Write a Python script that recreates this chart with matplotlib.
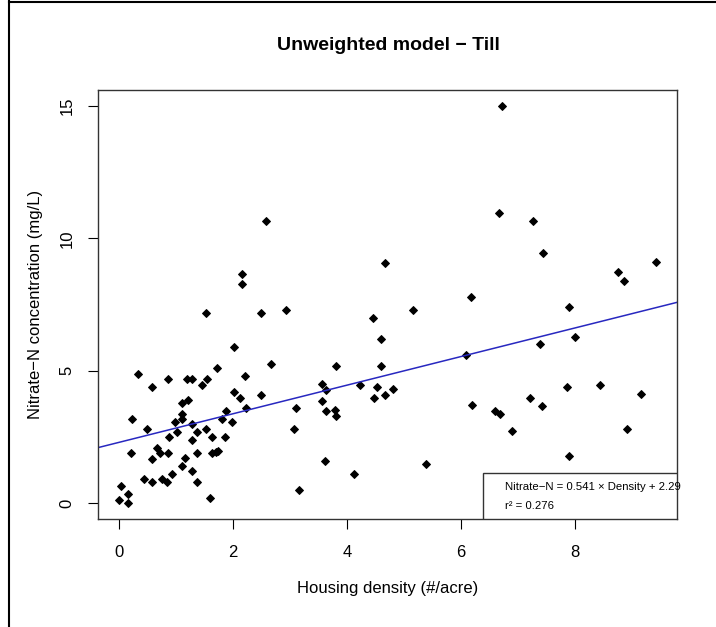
import numpy as np
import matplotlib.pyplot as plt
from matplotlib.lines import Line2D
from matplotlib.patches import Rectangle

plt.rcParams['font.family'] = ['Liberation Sans', 'DejaVu Sans']

# housing density (#/acre) and nitrate-N (mg/L)
density = [0.01, 0.05, 0.17, 0.17, 0.21, 0.24, 0.34, 0.44, 0.50, 0.59,
           0.59, 0.59, 0.68, 0.73, 0.76, 0.85, 0.86, 0.87, 0.89, 0.94,
           0.98, 1.03, 1.11, 1.11, 1.11, 1.11, 1.17, 1.20, 1.21, 1.29,
           1.29, 1.29, 1.29, 1.38, 1.38, 1.38, 1.46, 1.54, 1.54, 1.55,
           1.61, 1.64, 1.64, 1.71, 1.74, 1.72, 1.81, 1.86, 1.89, 1.98,
           2.02, 2.03, 2.13, 2.16, 2.16, 2.21, 2.24, 2.49, 2.50, 2.59,
           2.67, 2.94, 3.08, 3.11, 3.16, 3.56, 3.56, 3.62, 3.63, 3.64,
           3.79, 3.80, 3.81, 4.12, 4.23, 4.45, 4.48, 4.53, 4.59, 4.60,
           4.66, 4.66, 4.81, 5.15, 5.38, 6.08, 6.18, 6.19, 6.60, 6.67,
           6.68, 6.72, 6.89, 7.20, 7.26, 7.38, 7.41, 7.44, 7.85, 7.89,
           7.89, 8.00, 8.44, 8.75, 8.86, 8.90, 9.15, 9.41]
nitrate = [0.11, 0.66, 0.35, 0.00, 1.90, 3.18, 4.89, 0.90, 2.78, 4.39,
           1.68, 0.81, 2.09, 1.90, 0.90, 0.81, 4.69, 1.90, 2.51, 1.10,
           3.08, 2.69, 3.78, 3.37, 3.18, 1.40, 1.69, 4.69, 3.91, 4.69,
           3.00, 2.39, 1.20, 2.69, 1.90, 0.80, 4.47, 7.18, 2.81, 4.69,
           0.21, 2.51, 1.90, 1.92, 1.98, 5.10, 3.18, 2.51, 3.48, 3.08,
           4.18, 5.88, 3.98, 8.66, 8.27, 4.79, 3.60, 4.09, 7.18, 10.67,
           5.27, 7.28, 2.78, 3.60, 0.49, 4.49, 3.86, 1.60, 3.48, 4.27,
           3.53, 5.19, 3.28, 1.09, 4.47, 6.98, 3.98, 4.39, 5.19, 6.21,
           9.07, 4.09, 4.32, 7.28, 1.49, 5.59, 7.78, 3.71, 3.46, 10.95,
           3.38, 15.0, 2.73, 3.98, 10.66, 5.99, 3.67, 9.44, 4.39, 7.41,
           1.79, 6.28, 4.46, 8.73, 8.37, 2.79, 4.11, 9.12]

slope = 0.541
intercept = 2.29
r2 = 0.276

W, H = 716, 627
fig = plt.figure(figsize=(W / 100, H / 100), dpi=100)
ax = fig.add_axes([98 / W, 1 - 519 / H, (677 - 98) / W, (519 - 90) / H])

ax.plot(density, nitrate, 'D', color='black', ms=3.8, mew=0.7)
ax.axline((0, intercept), slope=slope, color='#2828c0', lw=1.1)

ax.set_xlim(-0.36, 9.78)
ax.set_ylim(-0.6, 15.6)
ax.set_xticks([0, 2, 4, 6, 8])
ax.set_yticks([0, 5, 10, 15])
ax.tick_params(axis='x', length=7, width=0.8, pad=12, labelsize=12)
ax.tick_params(axis='y', length=7, width=0.8, pad=10, labelsize=12,
               labelrotation=90)
for lab in ax.get_yticklabels():
    lab.set_va('center')
for s in ax.spines.values():
    s.set_color('#333333')
    s.set_linewidth(1.0)

ax.set_xlabel('Housing density (#/acre)', fontsize=12, labelpad=15)
ax.set_ylabel('Nitrate\u2212N concentration (mg/L)', fontsize=12, labelpad=12)
fig.text(388 / W, 1 - 45 / H, 'Unweighted model \u2212 Till', ha='center',
         va='center', fontsize=14, fontweight='bold')

# legend box in the bottom right corner
ax.add_patch(Rectangle((0.665, 0.0), 0.335, 0.107, transform=ax.transAxes,
                       facecolor='white', edgecolor='#333333', lw=1.0,
                       zorder=5))
ax.text(0.703, 0.074, 'Nitrate\u2212N = %.3f \u00d7 Density + %.2f' % (slope, intercept),
        transform=ax.transAxes, fontsize=8.2, va='center', zorder=6)
ax.text(0.703, 0.031, 'r\u00b2 = %.3f' % r2, transform=ax.transAxes,
        fontsize=8.2, va='center', zorder=6)

# screenshot frame
fig.add_artist(Line2D([9 / W, 9 / W], [0, 1], color='black', lw=1.5))
fig.add_artist(Line2D([9 / W, 1], [1 - 1.5 / H, 1 - 1.5 / H], color='black', lw=1.5))

fig.savefig('out.png', dpi=100)
